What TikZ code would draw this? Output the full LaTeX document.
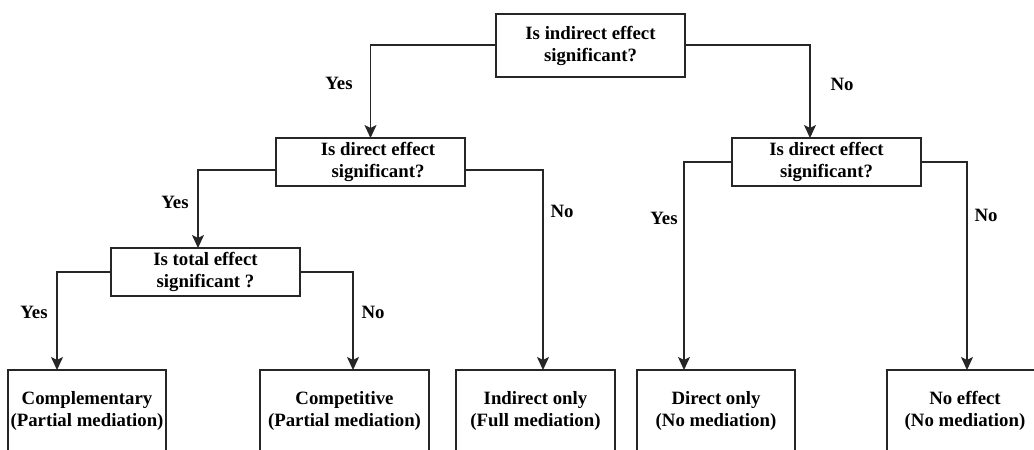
\documentclass[tikz,border=0pt]{standalone}
\usepackage{fontspec}
\setmainfont{Liberation Serif}
\usetikzlibrary{arrows.meta}
\begin{document}
\begin{tikzpicture}[x=1pt,y=-1pt,
  every node/.style={font=\fontsize{18.8}{22}\selectfont\bfseries, text=black},
  box/.style={draw=black!85, line width=1.4pt, fill=white, inner sep=0pt,
    outer sep=0pt, align=center, minimum height=48pt, minimum width=189pt},
  leaf/.style={box, minimum height=82pt},
  link/.style={draw=black!85, line width=1.4pt,
    -{Stealth[length=13pt,width=12pt,inset=3pt]}},
  tag/.style={inner sep=0pt}]
\clip (0,0) rectangle (1034,450);
\fill[white] (0,0) rectangle (1034,450);

% decision boxes
\node[box, minimum height=63pt] (top) at (590.5,45.5) {Is indirect effect\\significant?};
\node[box] (dl) at (370.5,162) {\hspace*{15pt}Is direct effect\\\hspace*{15pt}significant?};
\node[box] (dr) at (826.5,162) {Is direct effect\\significant?};
\node[box] (tot) at (205.5,272) {Is total effect\\significant ?};

% outcome boxes
\node[leaf, minimum width=158pt] (comp) at (87,411) {Complementary\\(Partial mediation)};
\node[leaf, minimum width=169pt] (cmpt) at (344.5,411) {Competitive\\(Partial mediation)};
\node[leaf, minimum width=159pt] (ind) at (535.5,411) {Indirect only\\(Full mediation)};
\node[leaf, minimum width=158pt] (dir) at (716,411) {Direct only\\(No mediation)};
\node[leaf, minimum width=156pt] (none) at (965,411) {No effect\\(No mediation)};

% connectors
\draw[link] ([yshift=0.5pt]top.west) -| (dl.north);
\draw[link] ([yshift=0.5pt]top.east) -| ([xshift=-16.5pt]dr.north);
\draw[link] ([yshift=-8pt]dl.west) -| ([xshift=-7.5pt]tot.north);
\draw[link] ([yshift=-8pt]dl.east) -| ([xshift=7.5pt]ind.north);
\draw[link] (dr.west) -| ([xshift=-32pt]dir.north);
\draw[link] (dr.east) -| ([xshift=2pt]none.north);
\draw[link] (tot.west) -| ([xshift=-30pt]comp.north);
\draw[link] (tot.east) -| ([xshift=8.5pt]cmpt.north);

% branch labels
\node[tag] (y1) at (339,83) {Yes};
\node[tag] (n1) at (842,84) {No};
\node[tag] (y2) at (175,202) {Yes};
\node[tag] (n2) at (562,211) {No};
\node[tag] (y3) at (664,218) {Yes};
\node[tag] (n3) at (986,215) {No};
\node[tag] (y4) at (34,312) {Yes};
\node[tag] (n4) at (373,312) {No};
\end{tikzpicture}
\end{document}
